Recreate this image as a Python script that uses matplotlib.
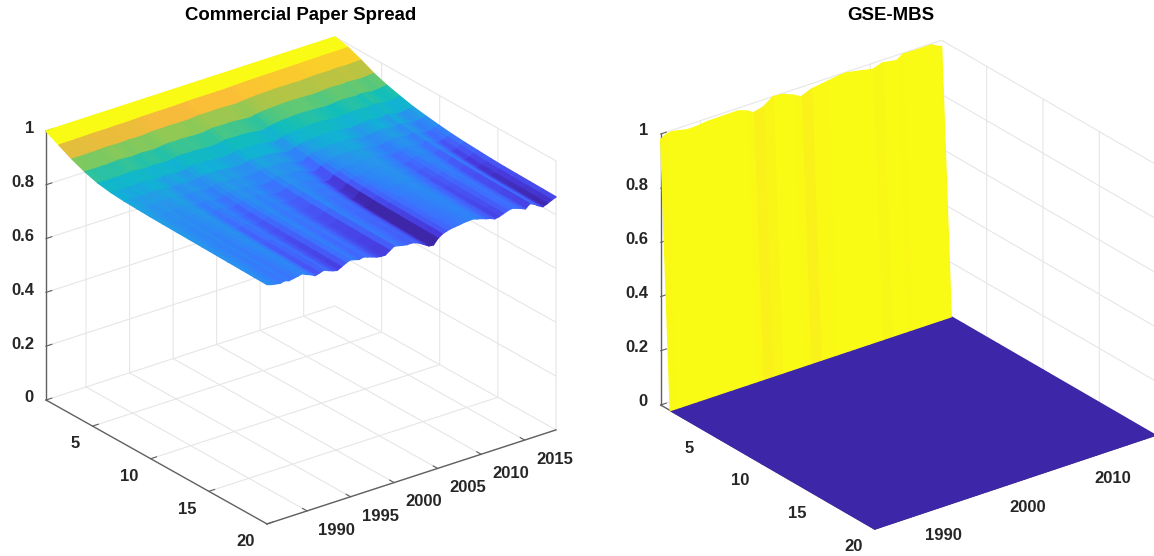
import numpy as np
import matplotlib
matplotlib.use("Agg")
import matplotlib.pyplot as plt
from matplotlib.colors import LinearSegmentedColormap, Normalize
from mpl_toolkits.mplot3d import proj3d

plt.rcParams['font.family'] = ['Liberation Sans', 'DejaVu Sans']
plt.rcParams['font.weight'] = 'bold'

W, H = 1154, 556

parula_t = [0, .07, .13, .2, .27, .33, .4, .5, .6, .7, .8, .87, .93, 1]
parula_c = [(.2422,.1504,.6603),(.2765,.2219,.8564),(.2810,.3228,.9579),(.2440,.4358,.9988),
            (.1786,.5289,.9682),(.1540,.5902,.9218),(.0689,.6948,.8394),(.0704,.7457,.7258),
            (.30,.78,.51),(.55,.79,.34),(.78,.76,.24),(.98,.73,.23),(.98,.84,.14),(.9769,.9839,.0805)]
parula = LinearSegmentedColormap.from_list('parula', list(zip(parula_t, parula_c)))

# ---- left panel data
cp_horizons = [1, 2.12, 3.24, 4.35, 5.47, 6.59, 7.71, 8.82, 9.94, 11.06, 12.18, 13.29, 14.41, 15.53, 16.65, 17.76, 18.88, 20]
cp_profile_first = [1, .975, .95, .93, .915, .907, .903, .901, .899, .898, .897, .896, .895, .894, .893, .892, .891, .89]
cp_profile_last = [1, .988, .968, .945, .928, .915, .903, .895, .888, .882, .878, .875, .872, .870, .869, .868, .867, .866]
cp_ripple_reach = [0, .3, .4, .45, .5, .55, .6, .7, .8, .9, .95, 1, 1, 1, 1, 1, 1, 1]
cp_h20_edge = [.890,.885,.882,.879,.883,.878,.881,.884,.888,.880,.874,.865,.870,.875,.868,.862,.858,.866,.875,.881,
               .877,.872,.876,.871,.866,.860,.857,.857,.868,.879,.876,.872,.869,.870,.866,.858,.848,.838,.836,.855,
               .866,.872,.876,.878,.880,.883,.884,.885,.880,.876,.870,.866,.859,.862,.868,.874,.877,.872,.866,.859,
               .873,.866,.855,.846,.852,.860,.866]
cp_year_range = (1985.4, 2018.6)

# ---- right panel data
gse_horizons = [1, 1.85, 3, 6, 10, 15, 20]
gse_top_t = [0,.021,.039,.0627,.0925,.128,.164,.222,.275,.306,.33,.365,.4,.43,.47,.50,.537,.596,.638,.66,.709,.755,.79,.84,.863,.899,.964,.994,1]
gse_top_z = [.98,.992,.995,.99,.983,.983,.988,.989,.99,.979,.964,.973,.999,.997,.981,.964,.98,.989,.996,.997,.987,.977,.989,.98,.996,.995,.995,.978,.978]
gse_year_range = (1985.3, 2018.4)

year_ticks_left = [1990, 1995, 2000, 2005, 2010, 2015]
year_ticks_right = [1990, 2000, 2010]
horizon_ticks = [5, 10, 15, 20]
z_ticks = [0, .2, .4, .6, .8, 1]
z_tick_labels = ['0', '0.2', '0.4', '0.6', '0.8', '1']

def cp_surface():
    n = len(cp_h20_edge)
    t = np.linspace(0, 1, n)
    first = np.array(cp_profile_first); last = np.array(cp_profile_last)
    prof = first[None, :] * (1 - t[:, None]) + last[None, :] * t[:, None]
    ratio = (1 - np.array(cp_h20_edge)) / (1 - prof[:, -1])
    Z = 1 - (1 - prof) * ratio[:, None] ** np.array(cp_ripple_reach)[None, :]
    return np.linspace(*cp_year_range, n), np.array(cp_horizons), Z

def gse_surface():
    t = np.array(gse_top_t)
    top = np.array(gse_top_z)
    Z = np.zeros((len(t), len(gse_horizons)))
    Z[:, 0] = top
    yrs = gse_year_range[0] + t * (gse_year_range[1] - gse_year_range[0])
    return yrs, np.array(gse_horizons, float), Z

def shift_labels(ax, axis, dx, dy, ha='center'):
    o = ax.transData.transform((0, 0))
    sx = ax.transData.transform((1, 0))[0] - o[0]
    sy = ax.transData.transform((0, 1))[1] - o[1]
    for tick in axis.get_major_ticks():
        label = tick.label1
        label.set_ha(ha)
        orig = label.set_position
        label.set_position = (lambda f: lambda xy: f((xy[0] + dx / sx, xy[1] + dy / sy)))(orig)

def style(ax, xticks):
    ax.set_xticks(xticks); ax.set_yticks(horizon_ticks); ax.set_zticks(z_ticks)
    ax.set_zticklabels(z_tick_labels)
    ax.patch.set_visible(False)
    for a in (ax.xaxis, ax.yaxis, ax.zaxis):
        a.set_pane_color((1, 1, 1, 0))
        a.pane.set_edgecolor((1, 1, 1, 0))
        a.line.set_color('#606060'); a.line.set_linewidth(1.0)
        a._axinfo['grid'].update(color='#e6e6e6', linewidth=0.8)
        a._axinfo['tick'].update(inward_factor=0.0, outward_factor=0.25, linewidth={True: .8, False: .8})
    ax.tick_params(axis='both', labelsize=12, labelcolor='#262626', color='#606060')
    ax.tick_params(axis='z', labelsize=12, labelcolor='#262626', color='#606060')

def place(ax, p_z0, p_z1):
    """Scale and move the axes so the z axis lands on the given pixels."""
    ylim = ax.get_ylim()
    xlim = ax.get_xlim()
    def px(z):
        vx, vy, _ = proj3d.proj_transform(xlim[0], min(ylim), z, ax.get_proj())
        return ax.transData.transform((vx, vy))
    ax.apply_aspect()
    a, b = px(0), px(1)
    k = (p_z0[1] - p_z1[1]) / (b[1] - a[1])
    pos = ax.get_position()
    cx, cy = pos.x0 + pos.width / 2, pos.y0 + pos.height / 2
    ax.set_position([cx - pos.width * k / 2, cy - pos.height * k / 2, pos.width * k, pos.height * k])
    ax.apply_aspect()
    a = px(0)
    dx, dy = (p_z0[0] - a[0]) / W, ((H - p_z0[1]) - a[1]) / H
    pos = ax.get_position()
    ax.set_position([pos.x0 + dx, pos.y0 + dy, pos.width, pos.height])
    ax.apply_aspect()

fig = plt.figure(figsize=(W / 100, H / 100), dpi=100, facecolor='white')

panels = [
    dict(data=cp_surface(), norm=Normalize(.845, 1), xlim=cp_year_range, xticks=year_ticks_left,
         view=(25.29, -127.3), box=(363.3, 364.7, 297.5), z0=(46, 400), z1=(46, 131), rect=[.02, .02, .45, .9],
         zshift=(15, 8), yshift=(3, 9), xshift=(18, 9)),
    dict(data=gse_surface(), norm=Normalize(0, .985), xlim=gse_year_range, xticks=year_ticks_right,
         view=(26.1, -127.2), box=(352.7, 354.0, 301.8), z0=(660.7, 405), z1=(660.7, 134), rect=[.52, .02, .45, .9],
         zshift=(14, 9), yshift=(3, 10), xshift=(17, 9)),
]
for p in panels:
    ax = fig.add_axes(p['rect'], projection='3d', proj_type='ortho')
    yrs, hs, Z = p['data']
    X, Y = np.meshgrid(yrs, hs, indexing='ij')
    cols = parula(p['norm'](Z))
    flat = cols[:-1, :-1].reshape(-1, 4)
    surf = ax.plot_surface(X, Y, Z, facecolors=cols, linewidth=1.0, shade=False,
                           rstride=1, cstride=1)
    surf.set_edgecolor(flat)
    ax.set_xlim(*p['xlim']); ax.set_ylim(20, 1); ax.set_zlim(0, 1)
    ax.view_init(elev=p['view'][0], azim=p['view'][1])
    ax.set_box_aspect(p['box'])
    style(ax, p['xticks'])
    place(ax, p['z0'], p['z1'])
    shift_labels(ax, ax.xaxis, *p['xshift'])
    shift_labels(ax, ax.yaxis, *p['yshift'], ha='right')
    shift_labels(ax, ax.zaxis, *p['zshift'], ha='right')

fig.text(301 / W, 1 - 16 / H, 'Commercial Paper Spread', ha='center', va='center', fontsize=13.4, color='black')
fig.text(891 / W, 1 - 16 / H, 'GSE-MBS', ha='center', va='center', fontsize=13.4, color='black')
fig.savefig('out.png', dpi=100)
